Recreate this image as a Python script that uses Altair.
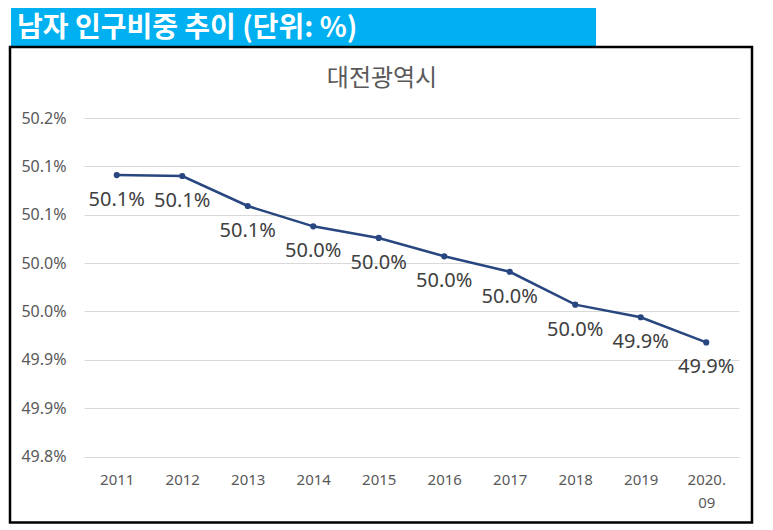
import altair as alt
import pandas as pd

years = ["2011", "2012", "2013", "2014", "2015", "2016", "2017", "2018", "2019", "2020.09"]
values = [50.091, 50.090, 50.059, 50.038, 50.026, 50.007, 49.991, 49.957, 49.944, 49.918]
y_ticks = [49.80, 49.85, 49.90, 49.95, 50.00, 50.05, 50.10, 50.15]
banner_text = ["남자 인구비중 추이 (단위: %)"]
chart_title = ["대전광역시"]

df = pd.DataFrame({"year": years, "value": values})

W, H = 655, 338.5
LINE = "#28467F"
FONT = "Noto Sans"
KFONT = "Noto Sans CJK KR"

x_enc = alt.X("year:O", sort=years, scale=alt.Scale(type="point", padding=0.5),
              axis=alt.Axis(title=None, labelAngle=0, domain=False, ticks=False, grid=False,
                            labelFont=FONT, labelFontSize=15, labelColor="#595959",
                            labelPadding=16, labelLineHeight=23,
                            labelExpr="datum.value == '2020.09' ? ['2020.', '09'] : datum.value"))
y_enc = alt.Y("value:Q", scale=alt.Scale(domain=[49.80, 50.15], nice=False, zero=False),
              axis=alt.Axis(title=None, values=y_ticks, domain=False, ticks=False,
                            gridColor="#D9D9D9", gridWidth=1,
                            labelFont=FONT, labelFontSize=16, labelColor="#595959",
                            labelPadding=18,
                            labelExpr="format(round(datum.value*10 + 0.001)/10, '.1f') + '%'"))

base = alt.Chart(df)

line = base.mark_line(color=LINE, strokeWidth=2.5).encode(x=x_enc, y=y_enc)
pts = base.mark_circle(color=LINE, size=38, opacity=1).encode(x=x_enc, y=y_enc)
labels = base.transform_calculate(lab="format(datum.value, '.1f') + '%'").mark_text(
    dy=25, align="center", baseline="middle", font=FONT, fontSize=20, color="#404040").encode(
    x=x_enc, y=y_enc, text="lab:N")

banner_df = pd.DataFrame({"t": banner_text})
banner_rect = alt.Chart(banner_df).mark_rect(color="#00B0F0").encode(
    x=alt.value(-73), x2=alt.value(512), y=alt.value(-110), y2=alt.value(-72))
banner_txt = alt.Chart(banner_df).mark_text(align="left", baseline="middle", font=KFONT,
                                            fontSize=28, fontWeight="bold", color="white").encode(
    x=alt.value(-67), y=alt.value(-89), text="t:N")

border = alt.Chart(banner_df).mark_rect(fill="transparent", stroke="black", strokeWidth=2.5).encode(
    x=alt.value(-74), x2=alt.value(668), y=alt.value(-71), y2=alt.value(404.5))

title_df = pd.DataFrame({"t": chart_title})
title = alt.Chart(title_df).mark_text(align="center", baseline="middle", font=KFONT,
                                      fontSize=24, color="#595959").encode(
    x=alt.value(298), y=alt.value(-39), text="t:N")

chart = alt.layer(banner_rect, banner_txt, border, title, line, pts, labels).properties(
    width=W, height=H,
    autosize=alt.AutoSizeParams(type="none"),
    padding={"left": 76, "top": 110, "right": 26, "bottom": 68},
    background="white",
).configure_view(stroke="transparent")

chart.save("out.html", embed_options={"renderer": "svg", "actions": False})
